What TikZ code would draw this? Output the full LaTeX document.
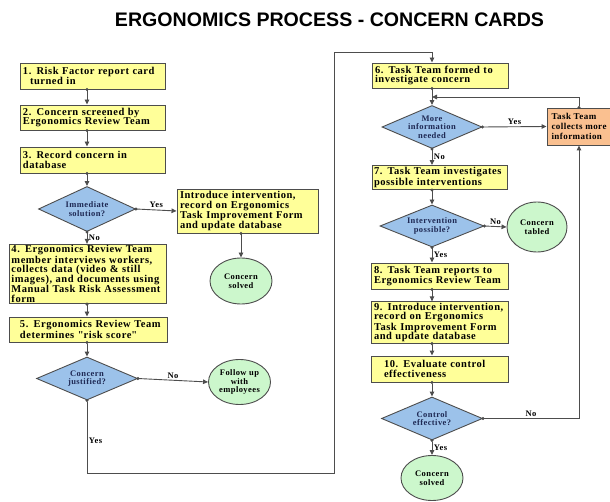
\documentclass[tikz,border=0pt]{standalone}
\usepackage{fontspec}
\setmainfont{Liberation Serif}[LetterSpace=5]
\newfontfamily\titlefont{Liberation Sans}
\newfontfamily\quotefont{Liberation Serif}[LetterSpace=5,Ligatures=ResetAll]
\usepackage{tikz}
\usetikzlibrary{arrows.meta,shapes.geometric}
\definecolor{boxyellow}{HTML}{FFFF99}
\definecolor{diablue}{HTML}{9CC2EA}
\definecolor{endgreen}{HTML}{CCF7CC}
\definecolor{taskorange}{HTML}{FAC090}
\definecolor{linegray}{HTML}{4D4D4D}
\definecolor{diatext}{HTML}{1F2A55}
\newcommand{\sq}{{\quotefont\bfseries\symbol{34}}}
\tikzset{pb/.style={shape=rectangle,draw=linegray,line width=0.9pt,fill=boxyellow,
    inner xsep=3pt,inner ysep=1pt,align=left,text width=#1,
    font=\bfseries\fontsize{10.5}{9.6}\selectfont}}
\tikzstyle{dtx}=[align=center,text=diatext,font=\bfseries\fontsize{8.5}{8.6}\selectfont]
\tikzstyle{dc}=[shape=diamond,draw=linegray,line width=0.9pt,fill=diablue,inner sep=0pt,
    minimum width=100pt,minimum height=43pt]
\tikzstyle{en}=[shape=ellipse,draw=linegray,line width=0.9pt,fill=endgreen,inner sep=0pt,
    align=center,font=\bfseries\fontsize{8.5}{8.8}\selectfont,minimum width=62pt,minimum height=46pt]
\tikzstyle{ob}=[shape=rectangle,draw=linegray,line width=0.9pt,fill=taskorange,inner sep=3pt,
    align=left,font=\bfseries\fontsize{9}{9.6}\selectfont,minimum width=64pt,minimum height=37pt]
\tikzstyle{flow}=[draw=linegray,line width=0.9pt,shorten <=-1.5pt,
    {Circle[length=3pt]}-{Triangle[length=5pt,width=4.5pt]}]
\tikzstyle{lb}=[font=\bfseries\fontsize{8.5}{8.5}\selectfont,inner sep=1.5pt]

\begin{document}
\begin{tikzpicture}[x=1pt,y=-1pt]
    \useasboundingbox (0,0) rectangle (610,502);
    \node[font=\titlefont\bfseries\fontsize{19.6}{20}\selectfont] (title) at (329.5,20)
        {ERGONOMICS PROCESS - CONCERN CARDS};

    % left column
    \node[pb=139pt,minimum height=26pt] (b1) at (92.5,76)
        {1. Risk Factor report card\\\hspace*{7pt}turned in};
    \node[pb=139pt,minimum height=25pt] (b2) at (92.5,117.5)
        {2. Concern screened by\\Ergonomics Review Team};
    \node[pb=139pt,minimum height=26pt] (b3) at (92.5,160)
        {3. Record concern in\\database};
    \node[dc,minimum width=97pt,minimum height=45pt,
        label={[dtx]center:Immediate\\solution?}] (d1) at (87,209) {};
    \node[pb=135pt,minimum height=44pt] (intro) at (247.5,211)
        {Introduce intervention,\\record on Ergonomics\\Task Improvement Form\\and update database};
    \node[en] (s1) at (241,281) {Concern\\solved};
    \node[pb=153pt,minimum height=58pt,inner xsep=2pt] (b4) at (88,274)
        {4. Ergonomics Review Team\\member interviews workers,\\collects data (video \& still\\images), and documents using\\Manual Task Risk Assessment\\form};
    \node[pb=152pt,minimum height=25pt] (b5) at (88,329.5)
        {\hspace*{8pt}5. Ergonomics Review Team\\\hspace*{8pt}determines \sq risk score\sq};
    \node[dc,minimum width=101pt,
        label={[dtx]center:Concern\\justified?}] (d2) at (87,378.5) {};
    \node[en,minimum height=45pt] (f1) at (239.5,382) {Follow up\\with\\employees};

    % right column
    \node[pb=130pt,minimum height=25pt] (b6) at (440,75.5)
        {6. Task Team formed to\\investigate concern};
    \node[dc,
        label={[dtx]center:More\\information\\needed}] (d3) at (432,127) {};
    \node[ob] (o1) at (579,126.5) {Task Team\\collects more\\information};
    \node[pb=131pt,minimum height=24pt,inner xsep=2pt] (b7) at (439.5,177.5)
        {7. Task Team investigates\\possible interventions};
    \node[dc,minimum width=104pt,minimum height=42pt,
        label={[dtx]center:Intervention\\possible?}] (d4) at (432,226) {};
    \node[en,minimum width=60pt,minimum height=50pt] (t1) at (537,227) {Concern\\tabled};
    \node[pb=131pt,minimum height=26pt] (b8) at (439.5,276)
        {8. Task Team reports to\\Ergonomics Review Team};
    \node[pb=131pt,minimum height=39pt] (b9) at (439.5,322.5)
        {9. Introduce intervention,\\record on Ergonomics\\Task Improvement Form\\and update database};
    \node[pb=131pt,minimum height=26pt] (b10) at (439.5,369)
        {\hspace*{10pt}10. Evaluate control\\\hspace*{10pt}effectiveness};
    \node[dc,minimum width=101pt,
        label={[dtx]center:Control\\effective?}] (d5) at (432,418.5) {};
    \node[en,minimum height=45pt] (s2) at (432,478) {Concern\\solved};

    \coordinate (ybot) at (334,473);
    \coordinate (ytop) at (334,52);
    \coordinate (fback) at (432,97);

    % connectors, left
    \draw[flow] (b1.south -| d1.north) -- (b2.north -| d1.north);
    \draw[flow] (b2.south -| d1.north) -- (b3.north -| d1.north);
    \draw[flow] (b3.south -| d1.north) -- (d1.north);
    \draw[flow] (d1.east) -- node[lb,above] {Yes} (intro.west);
    \draw[flow] (d1.south) -- node[lb,right] {No} (b4.north -| d1.south);
    \draw[flow] (intro.south -| s1.north) -- (s1.north);
    \draw[flow] (b4.south -| d2.north) -- (b5.north -| d2.north);
    \draw[flow] (b5.south -| d2.north) -- (d2.north);
    \draw[flow] (d2.east) -- node[lb,above] {No} (f1.west);
    \draw[flow] (d2.south) -- node[lb,right,pos=0.55] {Yes} (ybot -| d2.south)
        -- (ybot) -- (ytop) -- (ytop -| d3.north) -- (b6.north -| d3.north);

    % connectors, right
    \draw[flow] (b6.south -| d3.north) -- (d3.north);
    \draw[flow] (d3.east) -- node[lb,above] {Yes} (o1.west);
    \draw[flow] (o1.north) |- (fback);
    \draw[flow] (d3.south) -- node[lb,right] {No} (b7.north -| d3.south);
    \draw[flow] (b7.south -| d4.north) -- (d4.north);
    \draw[flow] (d4.east) -- node[lb,above] {No} (t1.west);
    \draw[flow] (d4.south) -- node[lb,right] {Yes} (b8.north -| d4.south);
    \draw[flow] (b8.south -| d5.north) -- (b9.north -| d5.north);
    \draw[flow] (b9.south -| d5.north) -- (b10.north -| d5.north);
    \draw[flow] (b10.south -| d5.north) -- (d5.north);
    \draw[flow] (d5.east) -| node[lb,above,pos=0.25] {No} (o1.south);
    \draw[flow] (d5.south) -- node[lb,right] {Yes} (s2.north);
\end{tikzpicture}
\end{document}
